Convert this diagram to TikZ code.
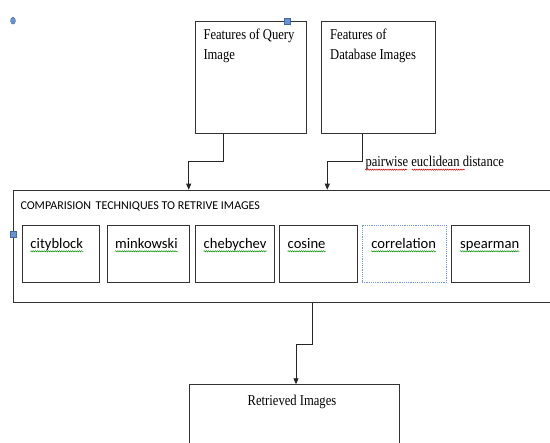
\documentclass[tikz,border=0pt]{standalone}
\usepackage{fontspec}
\setmainfont{Liberation Serif}
\newfontfamily\calfont{Carlito}
\usetikzlibrary{arrows.meta,decorations.pathmorphing,calc,shapes.geometric}
\newcommand{\nx}[1]{\scalebox{0.84}[1]{#1}}
\definecolor{selblue}{RGB}{79,129,200}
\begin{document}
\begin{tikzpicture}[x=1pt,y=-1pt,
  box/.style={draw=black!80, line width=0.9pt, inner sep=0pt, anchor=north west},
  conn/.style={draw=black!85, line width=0.9pt, -{Triangle[length=6pt,width=5pt]}},
  serif/.style={font=\fontsize{15}{20}\selectfont, inner sep=0pt, align=left},
  tech/.style={font=\calfont\fontsize{14.6}{16}\selectfont, inner sep=0pt, anchor=base west},
  gsq/.style={draw=green!55!black, line width=0.5pt, decorate, decoration={snake, amplitude=0.6pt, segment length=2.2pt}},
  rsq/.style={draw=red!80!black, line width=0.5pt, decorate, decoration={snake, amplitude=0.6pt, segment length=2.2pt}},
  handle/.style={fill=selblue!85, draw=selblue!80!black, line width=0.3pt, inner sep=0pt, minimum size=5.5pt}
]
\useasboundingbox (0,0) rectangle (550,443);
\clip (0,0) rectangle (550,443);

% top boxes
\node[box, minimum width=110.5pt, minimum height=112pt] (q) at (195,20.7) {};
\node[box, minimum width=114.3pt, minimum height=112pt] (d) at (320.6,20.7) {};
\node[serif, anchor=base west] (qt1) at (203.3,40) {\nx{Features of Query}};
\node[serif, anchor=base west] (qt2) at (203.3,60) {\nx{Image}};
\node[serif, anchor=base west] (dt1) at (330,40) {\nx{Features of}};
\node[serif, anchor=base west] (dt2) at (330,60) {\nx{Database Images}};

% main box
\node[box, minimum width=545pt, minimum height=112pt] (m) at (13.3,189.7) {};
\node[font=\calfont\fontsize{12}{14}\selectfont, inner sep=0pt, anchor=base west] (title) at (20.3,210) {COMPARISION\, TECHNIQUES TO RETRIVE IMAGES};

% technique boxes
\node[box, minimum width=76.5pt, minimum height=57pt] (b1) at (22.4,224.7) {};
\node[box, minimum width=82.1pt, minimum height=57pt] (b2) at (106.6,224.7) {};
\node[box, minimum width=79.3pt, minimum height=57pt] (b3) at (195,224.7) {};
\node[box, minimum width=77.9pt, minimum height=57pt] (b4) at (279.2,224.7) {};
\node[box, draw=selblue!80, line width=0.6pt, dash pattern=on 1.2pt off 1pt, minimum width=84.6pt, minimum height=57pt] (b5) at (361.6,224.7) {};
\node[box, minimum width=77.5pt, minimum height=57pt] (b6) at (451.1,224.7) {};

\node[tech] (w1) at (30.3,248.3) {cityblock};
\node[tech] (w2) at (115,248.3) {minkowski};
\node[tech] (w3) at (203.5,248.3) {chebychev};
\node[tech] (w4) at (287.5,248.3) {cosine};
\node[tech] (w5) at (371.1,248.3) {correlation};
\node[tech] (w6) at (460,248.3) {spearman};
\foreach \w in {w1,w2,w3,w4,w5,w6}{
  \draw[gsq] ([yshift=-3pt]\w.base west) -- ([yshift=-3pt]\w.base east);
}

% label
\node[serif, anchor=base west] (lab) at (365.3,166.7) {\nx{pairwise euclidean distance}};
\coordinate (r1a) at ([yshift=-3pt]lab.base west);
\coordinate (r1b) at ($(lab.base west)+(42,3)$);
\coordinate (r2a) at ($(lab.base west)+(46.5,3)$);
\coordinate (r2b) at ($(lab.base west)+(99.5,3)$);
\draw[rsq] (r1a) -- (r1b);
\draw[rsq] (r2a) -- (r2b);

% retrieved box
\node[box, minimum width=210pt, minimum height=80pt] (r) at (189,384.3) {};
\node[serif, anchor=base] (rt) at (292,405.7) {\nx{Retrieved Images}};

% connectors
\draw[conn] ($(q.south west)+(28.4,0)$) -- ++(0,27.6) -| ($(m.north west)+(175.4,0)$);
\draw[conn] ($(d.south west)+(41.7,0)$) -- ++(0,27.6) -| ($(m.north west)+(314,0)$);
\draw[conn] ($(m.south west)+(299,0)$) -- ++(0,42.3) -| ($(r.north west)+(107,0)$);

% selection handles
\node[handle, rectangle] (h1) at (287,21) {};
\node[handle, rectangle] (h2) at (13.3,234.3) {};
\node[handle, ellipse, minimum width=5pt, minimum height=7pt] (h3) at (13,20.7) {};
\end{tikzpicture}
\end{document}
